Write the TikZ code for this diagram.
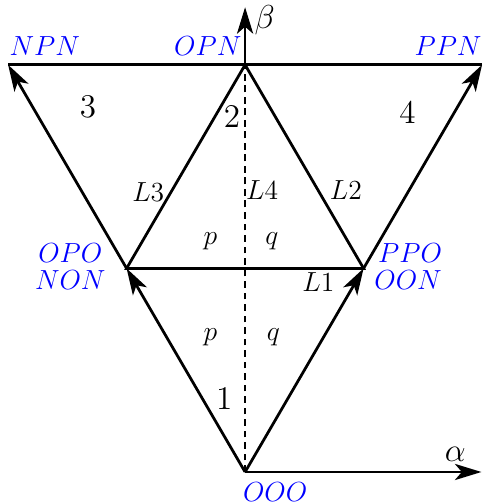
\documentclass[tikz,border=0pt]{standalone}
\usepackage{amsmath,amssymb}
\usepackage{tikz}
\usetikzlibrary{arrows.meta,positioning,calc}

\begin{document}
\begin{tikzpicture}[
    edge/.style={very thick},
    arr/.style={very thick, -{Stealth[length=11.5pt,width=7pt,inset=3pt]}},
    vlabel/.style={blue, font=\large},
    region/.style={font=\Large},
    lname/.style={font=\large},
    side/.style={font=\large},
]
    \useasboundingbox (-3.744,-0.489) rectangle (3.62,7.21);

    % Vertices
    \coordinate (OOO) at (0,0);
    \coordinate (OPN) at (0,6.22);
    \coordinate (NPN) at (-3.62,6.22);
    \coordinate (PPN) at (3.62,6.22);
    \coordinate (OPO) at (-1.81,3.11);
    \coordinate (PPO) at (1.81,3.11);
    \coordinate (aend) at (3.61,0);
    \coordinate (bend) at (0,7.10);

    % Axes
    \draw[arr] (OOO) -- (aend);
    \draw[arr] (OPN) -- (bend);
    \node[font=\Large] (alpha) at (3.21,0.27) {$\alpha$};
    \node[font=\Large] (beta) at (0.30,6.90) {$\beta$};

    % Dashed middle line
    \draw[thick, dash pattern=on 3pt off 2pt] (OOO) -- (OPN);

    % Outer boundary
    \draw[arr] (OOO) -- (OPO);
    \draw[arr] (OPO) -- (NPN);
    \draw[arr] (OOO) -- (PPO);
    \draw[arr] (PPO) -- (PPN);
    \draw[edge] (NPN) -- (PPN);

    % Inner triangle
    \draw[edge] (OPO) -- (OPN) -- (PPO) -- cycle;

    % Vertex labels
    \node[vlabel] (nNPN) at (-3.06,6.50) {$NPN$};
    \node[vlabel] (nOPN) at (-0.57,6.50) {$OPN$};
    \node[vlabel] (nPPN) at (3.10,6.50) {$PPN$};
    \node[vlabel] (nOPO) at (-2.67,3.35) {$OPO$};
    \node[vlabel] (nNON) at (-2.67,2.93) {$NON$};
    \node[vlabel] (nPPO) at (2.52,3.35) {$PPO$};
    \node[vlabel] (nOON) at (2.49,2.93) {$OON$};
    \node[vlabel] (nOOO) at (0.46,-0.30) {$OOO$};

    % Sectors
    \node[region] (r1) at (-0.32,1.13) {1};
    \node[region] (r2) at (-0.20,5.43) {2};
    \node[region] (r3) at (-2.40,5.58) {3};
    \node[region] (r4) at (2.48,5.49) {4};

    % Lines
    \node[lname] (L1) at (1.12,2.90) {$L1$};
    \node[lname] (L2) at (1.54,4.31) {$L2$};
    \node[lname] (L3) at (-1.48,4.28) {$L3$};
    \node[lname] (L4) at (0.26,4.31) {$L4$};

    % p and q sides
    \node[side] (pu) at (-0.53,3.53) {$p$};
    \node[side] (qu) at (0.41,3.53) {$q$};
    \node[side] (pl) at (-0.53,2.06) {$p$};
    \node[side] (ql) at (0.43,2.06) {$q$};
\end{tikzpicture}
\end{document}
